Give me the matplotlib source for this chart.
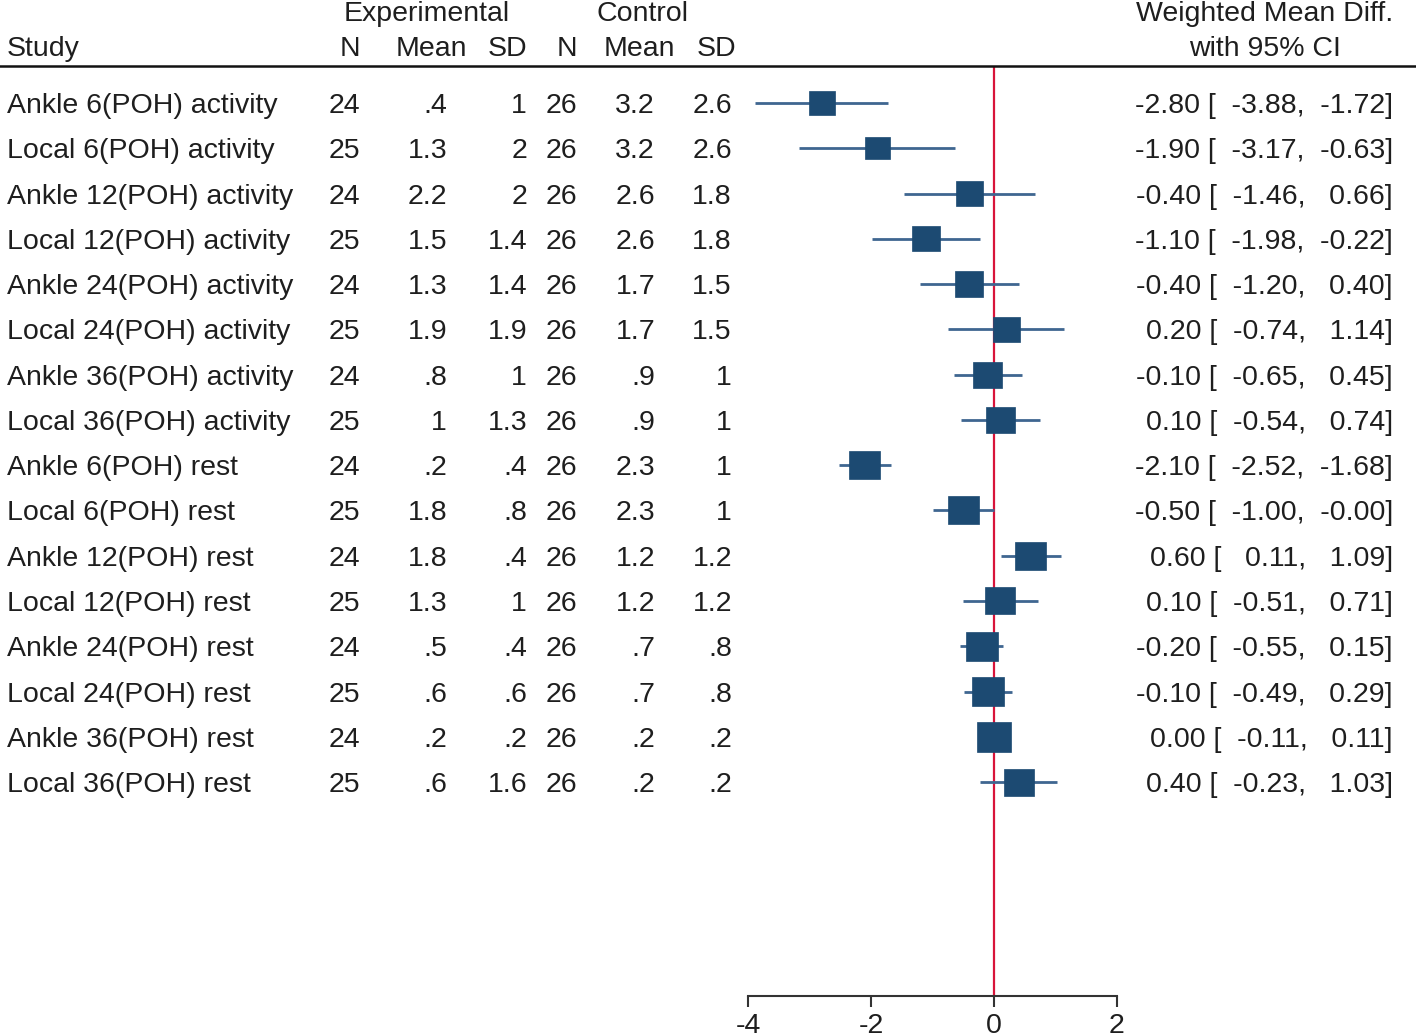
import numpy as np
import matplotlib.pyplot as plt
from matplotlib.patches import Rectangle
from matplotlib.transforms import blended_transform_factory

studies = ['Ankle 6(POH) activity', 'Local 6(POH) activity',
           'Ankle 12(POH) activity', 'Local 12(POH) activity',
           'Ankle 24(POH) activity', 'Local 24(POH) activity',
           'Ankle 36(POH) activity', 'Local 36(POH) activity',
           'Ankle 6(POH) rest', 'Local 6(POH) rest',
           'Ankle 12(POH) rest', 'Local 12(POH) rest',
           'Ankle 24(POH) rest', 'Local 24(POH) rest',
           'Ankle 36(POH) rest', 'Local 36(POH) rest']
n_exp = [24, 25, 24, 25, 24, 25, 24, 25, 24, 25, 24, 25, 24, 25, 24, 25]
mean_exp = ['.4', '1.3', '2.2', '1.5', '1.3', '1.9', '.8', '1',
            '.2', '1.8', '1.8', '1.3', '.5', '.6', '.2', '.6']
sd_exp = ['1', '2', '2', '1.4', '1.4', '1.9', '1', '1.3',
          '.4', '.8', '.4', '1', '.4', '.6', '.2', '1.6']
n_ctl = [26] * 16
mean_ctl = ['3.2', '3.2', '2.6', '2.6', '1.7', '1.7', '.9', '.9',
            '2.3', '2.3', '1.2', '1.2', '.7', '.7', '.2', '.2']
sd_ctl = ['2.6', '2.6', '1.8', '1.8', '1.5', '1.5', '1', '1',
          '1', '1', '1.2', '1.2', '.8', '.8', '.2', '.2']
wmd = [-2.80, -1.90, -0.40, -1.10, -0.40, 0.20, -0.10, 0.10,
       -2.10, -0.50, 0.60, 0.10, -0.20, -0.10, 0.00, 0.40]
ci_lo = [-3.88, -3.17, -1.46, -1.98, -1.20, -0.74, -0.65, -0.54,
         -2.52, -1.00, 0.11, -0.51, -0.55, -0.49, -0.11, -0.23]
ci_hi = [-1.72, -0.63, 0.66, -0.22, 0.40, 1.14, 0.45, 0.74,
         -1.68, -0.00, 1.09, 0.71, 0.15, 0.29, 0.11, 1.03]
# study weights (%)
weights = [4.9, 4.5, 5.3, 5.7, 5.7, 5.3, 6.1, 6.1,
           7.0, 7.0, 7.0, 6.5, 7.4, 7.4, 7.9, 6.5]
xticks = [-4, -2, 0, 2]

W, H = 1416, 1036
fig = plt.figure(figsize=(W / 100, H / 100), dpi=100)
plt.rcParams['font.family'] = ['Liberation Sans', 'DejaVu Sans']
fs = 20.5
tc = '#1e1e1e'

# forest axes: x=-4 at px 748, x=2 at px 1117; top at header line, bottom at axis line
top_px, bot_px = 66, 996
ax = fig.add_axes([748 / W, 1 - bot_px / H, (1117 - 748) / W, (bot_px - top_px) / H])
row0, dy = 103, 45.27
ax.set_xlim(-4, 2)
ax.set_ylim((bot_px - row0) / dy, (top_px - row0) / dy)
for s in ['top', 'left', 'right']:
    ax.spines[s].set_visible(False)
ax.spines['bottom'].set_color('#333333')
ax.spines['bottom'].set_linewidth(1.5)
ax.set_yticks([])
ax.set_xticks(xticks)
ax.set_xticklabels([str(t) for t in xticks], fontsize=fs, color=tc)
ax.tick_params(axis='x', length=8, width=1.5, color='#333333', pad=4)
ax.patch.set_alpha(0)

ax.axvline(0, color='#d8143a', lw=1.6, zorder=1)

px_x = (1117 - 748) / 6.0
for i in range(len(studies)):
    ax.plot([ci_lo[i], ci_hi[i]], [i, i], color='#3f6690', lw=2.0, zorder=2,
            solid_capstyle='butt')
    side = 117.6 * np.sqrt(weights[i] / 100.0)
    w = side / px_x
    h = side * 0.9 / dy
    ax.add_patch(Rectangle((wmd[i] - w / 2, i - h / 2), w, h,
                           facecolor='#1c4a72', edgecolor='#1c4a72', lw=0.5, zorder=3))

# table columns (text baseline ~10 px below row centre)
tr = blended_transform_factory(fig.transFigure, ax.transData)
base = 10.0 / dy
cols = [(n_exp, 360), (mean_exp, 447), (sd_exp, 527),
        (n_ctl, 577), (mean_ctl, 655), (sd_ctl, 732)]
for i in range(len(studies)):
    yb = i + base
    ax.text(7 / W, yb, studies[i], transform=tr, ha='left', va='baseline', fontsize=fs, color=tc)
    for vals, xr in cols:
        ax.text(xr / W, yb, str(vals[i]), transform=tr, ha='right', va='baseline',
                fontsize=fs, color=tc)
    s = '%5.2f [%7.2f,%7.2f]' % (wmd[i], ci_lo[i], ci_hi[i])
    ax.text(1393 / W, yb, s.strip(), transform=tr, ha='right', va='baseline',
            fontsize=fs, color=tc)

# header
def fy(p):
    return 1 - p / H

fig.text(427 / W, fy(21), 'Experimental', ha='center', va='baseline', fontsize=fs, color=tc)
fig.text(643 / W, fy(21), 'Control', ha='center', va='baseline', fontsize=fs, color=tc)
fig.text(1265 / W, fy(21), 'Weighted Mean Diff.', ha='center', va='baseline', fontsize=fs, color=tc)
fig.text(1265 / W, fy(56), 'with 95% CI', ha='center', va='baseline', fontsize=fs, color=tc)
fig.text(7 / W, fy(56), 'Study', ha='left', va='baseline', fontsize=fs, color=tc)
for lab, xr in [('N', 360), ('Mean', 467), ('SD', 527), ('N', 577), ('Mean', 675), ('SD', 736)]:
    fig.text(xr / W, fy(56), lab, ha='right', va='baseline', fontsize=fs, color=tc)

fig.add_artist(plt.Line2D([0, 1], [fy(66), fy(66)], color='#111111', lw=1.8,
                          transform=fig.transFigure))

fig.savefig('out.png', dpi=100)
